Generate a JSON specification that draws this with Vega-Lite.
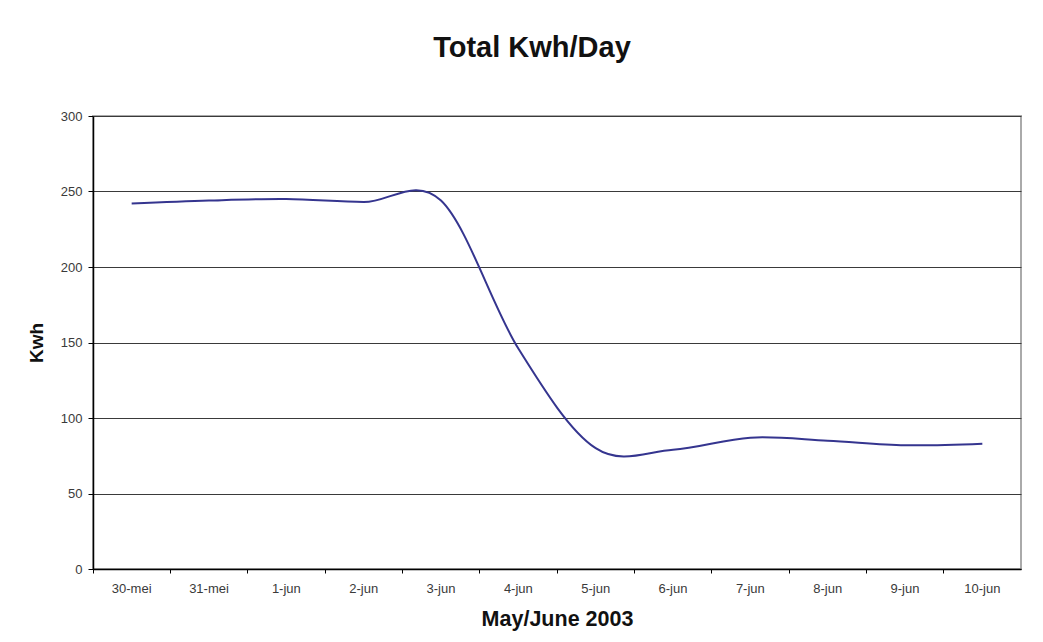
{
  "$schema": "https://vega.github.io/schema/vega-lite/v6.json",
  "width": 928,
  "height": 453,
  "autosize": {"type": "none"},
  "padding": {"left": 93, "top": 116, "right": 22, "bottom": 73},
  "background": "white",
  "title": {
    "text": "Total Kwh/Day",
    "font": "Liberation Sans",
    "fontSize": 29,
    "fontWeight": "bold",
    "color": "#111111",
    "anchor": "middle",
    "frame": "group",
    "baseline": "alphabetic",
    "offset": 24,
    "dx": -25
  },
  "data": {
    "values": [
      {"day": "30-mei", "kwh": 242},
      {"day": "31-mei", "kwh": 244},
      {"day": "1-jun", "kwh": 245},
      {"day": "2-jun", "kwh": 243},
      {"day": "3-jun", "kwh": 244},
      {"day": "4-jun", "kwh": 146},
      {"day": "5-jun", "kwh": 80},
      {"day": "6-jun", "kwh": 79},
      {"day": "7-jun", "kwh": 87},
      {"day": "8-jun", "kwh": 85},
      {"day": "9-jun", "kwh": 82},
      {"day": "10-jun", "kwh": 83}
    ]
  },
  "mark": {
    "type": "line",
    "interpolate": "cardinal",
    "color": "#35358f",
    "strokeWidth": 2
  },
  "encoding": {
    "x": {
      "field": "day",
      "type": "nominal",
      "sort": null,
      "bandPosition": 0.5,
      "scale": {"type": "band", "paddingInner": 0, "paddingOuter": 0},
      "axis": {
        "title": "May/June 2003",
        "titleFont": "Liberation Sans",
        "titleFontSize": 21.5,
        "titleFontWeight": "bold",
        "titleColor": "#111111",
        "titlePadding": 13,
        "labelFont": "Liberation Sans",
        "labelFontSize": 13,
        "labelColor": "#3a3a3a",
        "labelAngle": 0,
        "labelPadding": 9,
        "bandPosition": 0,
        "tickSize": 4,
        "tickColor": "#000000",
        "domainColor": "#000000",
        "domainWidth": 1.5,
        "grid": false
      }
    },
    "y": {
      "field": "kwh",
      "type": "quantitative",
      "scale": {"domain": [0, 300], "nice": false},
      "axis": {
        "title": "Kwh",
        "titleFont": "Liberation Sans",
        "titleFontSize": 19,
        "titleFontWeight": "bold",
        "titleColor": "#111111",
        "titlePadding": 14,
        "values": [0, 50, 100, 150, 200, 250, 300],
        "labelFont": "Liberation Sans",
        "labelFontSize": 13,
        "labelColor": "#3a3a3a",
        "labelPadding": 6,
        "tickSize": 5,
        "tickColor": "#000000",
        "domainColor": "#000000",
        "domainWidth": 1.5,
        "grid": true,
        "gridColor": "#3a3a3a",
        "gridWidth": 1.2
      }
    }
  },
  "config": {
    "view": {"stroke": "#aaaaaa", "strokeWidth": 2}
  }
}
